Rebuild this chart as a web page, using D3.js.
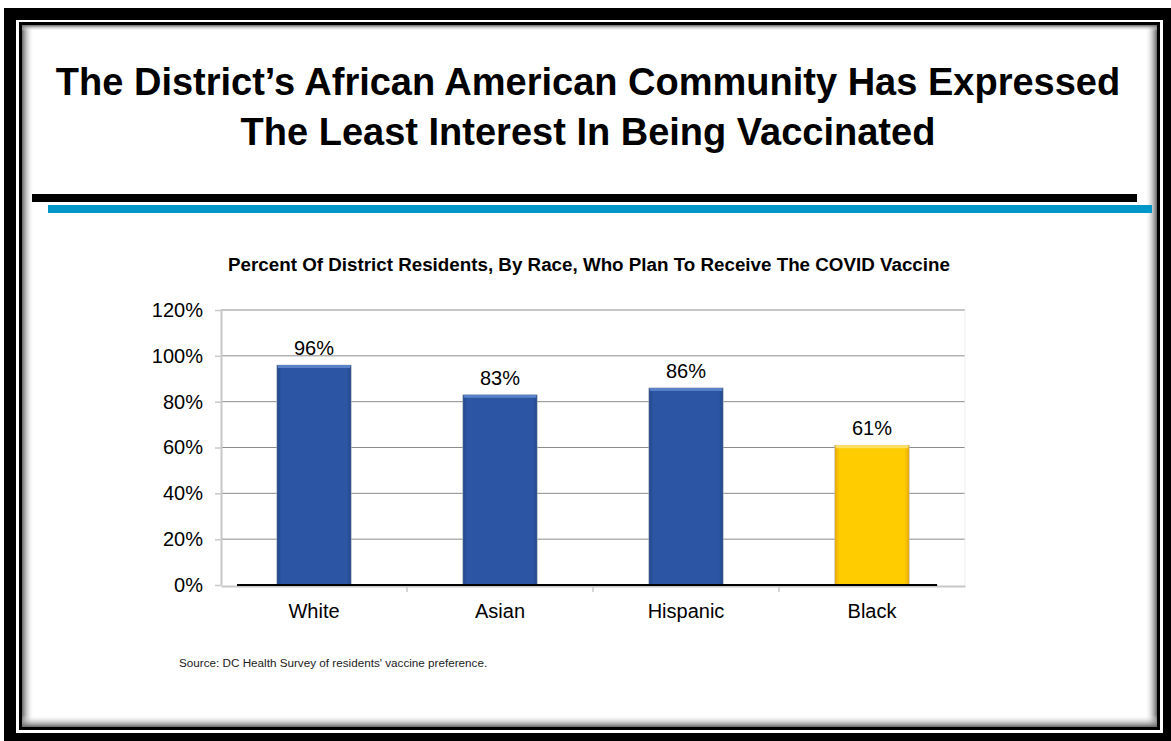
<!DOCTYPE html>
<html>
<head>
<meta charset="utf-8">
<script src="https://cdn.jsdelivr.net/npm/d3@7"></script>
<style>
  body { margin: 0; background: #fff; }
  svg { display: block; font-family: "Liberation Sans", Arial, sans-serif; }
</style>
</head>
<body>
<svg id="chart"></svg>
<script>
// Data
const categories = ["White", "Asian", "Hispanic", "Black"];
const values = [96, 83, 86, 61];
const yTicks = [0, 20, 40, 60, 80, 100, 120];
const barColors = ["blue", "blue", "blue", "yellow"];

const titleLines = [
    "The District\u2019s African American Community Has Expressed",
    "The Least Interest In Being Vaccinated"
];
const subtitle = "Percent Of District Residents, By Race, Who Plan To Receive The COVID Vaccine";
const source = "Source: DC Health Survey of residents' vaccine preference.";

// Dimensions
const W = 1171, H = 741;
const margin = { top: 310, right: 206, bottom: 156, left: 221 };
const plotW = W - margin.left - margin.right;
const plotH = H - margin.top - margin.bottom;

const svg = d3.select("#chart").attr("width", W).attr("height", H);
const defs = svg.append("defs");

// Frame shadow gradients (inner edge darkening)
function edgeGrad(id, x1, y1, x2, y2) {
    const g = defs.append("linearGradient").attr("id", id)
        .attr("x1", x1).attr("y1", y1).attr("x2", x2).attr("y2", y2);
    g.append("stop").attr("offset", "0%").attr("stop-color", "#666").attr("stop-opacity", 1);
    g.append("stop").attr("offset", "100%").attr("stop-color", "#fff").attr("stop-opacity", 0);
}
edgeGrad("shL", 0, 0, 1, 0);
edgeGrad("shR", 1, 0, 0, 0);
edgeGrad("shT", 0, 0, 0, 1);
edgeGrad("shB", 0, 1, 0, 0);

// Bar gradients
function barGrad(id, edge, mid) {
    const g = defs.append("linearGradient").attr("id", id).attr("x1", 0).attr("x2", 1);
    g.append("stop").attr("offset", "0%").attr("stop-color", edge);
    g.append("stop").attr("offset", "6%").attr("stop-color", mid);
    g.append("stop").attr("offset", "94%").attr("stop-color", mid);
    g.append("stop").attr("offset", "100%").attr("stop-color", edge);
}
barGrad("blue", "#22478a", "#2c55a3");
barGrad("yellow", "#e6a800", "#ffcc00");
const bevel = { blue: "#5a82c8", yellow: "#ffe066" };

// Frame
svg.append("rect").attr("x", 4).attr("y", 8).attr("width", 1167).attr("height", 733).attr("fill", "#000");
svg.append("rect").attr("x", 16).attr("y", 20).attr("width", 1147).attr("height", 713).attr("fill", "#fff");
svg.append("rect").attr("x", 19).attr("y", 22).attr("width", 1141).attr("height", 708).attr("fill", "#000");
svg.append("rect").attr("x", 22).attr("y", 25).attr("width", 1135).attr("height", 702).attr("fill", "#fff");
const sh = 12;
svg.append("rect").attr("x", 22).attr("y", 25).attr("width", sh).attr("height", 702).attr("fill", "url(#shL)");
svg.append("rect").attr("x", 1157 - sh).attr("y", 25).attr("width", sh).attr("height", 702).attr("fill", "url(#shR)");
svg.append("rect").attr("x", 22).attr("y", 25).attr("width", 1135).attr("height", 6).attr("fill", "url(#shT)");
svg.append("rect").attr("x", 22).attr("y", 727 - sh).attr("width", 1135).attr("height", sh).attr("fill", "url(#shB)");

// Title
svg.append("g").selectAll("text")
    .data(titleLines)
    .join("text")
    .attr("x", 588)
    .attr("y", (d, i) => 95 + i * 50)
    .attr("text-anchor", "middle")
    .attr("font-size", "38px")
    .attr("font-weight", "bold")
    .attr("fill", "#000")
    .text(d => d);

// Divider lines
svg.append("rect").attr("x", 32).attr("y", 194).attr("width", 1105).attr("height", 8).attr("fill", "#000");
svg.append("rect").attr("x", 48).attr("y", 205).attr("width", 1104).attr("height", 8).attr("fill", "#0098c8");

// Chart subtitle
svg.append("text")
    .attr("x", 589)
    .attr("y", 271)
    .attr("text-anchor", "middle")
    .attr("font-size", "18.8px")
    .attr("font-weight", "bold")
    .text(subtitle);

// Scales
const x = d3.scaleBand().domain(categories).range([0, plotW]);
const y = d3.scaleLinear().domain([0, 120]).range([plotH, 0]);

const g = svg.append("g").attr("transform", `translate(${margin.left},${margin.top})`);

// Gridlines
g.append("g").selectAll("line")
    .data(yTicks.filter(d => d > 0))
    .join("line")
    .attr("x1", 0).attr("x2", plotW)
    .attr("y1", d => y(d)).attr("y2", d => y(d))
    .attr("stroke", "#8c8c8c").attr("stroke-width", 1);

// Light right border
g.append("line").attr("x1", plotW).attr("x2", plotW).attr("y1", 0).attr("y2", plotH)
    .attr("stroke", "#eee").attr("stroke-width", 1);

// Y axis
const yAxis = g.append("g")
    .call(d3.axisLeft(y).tickValues(yTicks).tickFormat(d => d + "%").tickSize(6).tickSizeOuter(0));
yAxis.select(".domain").attr("stroke", "#c8c8c8").attr("stroke-width", 2);
yAxis.selectAll(".tick line").attr("stroke", "#c8c8c8").attr("stroke-width", 1.5);
yAxis.selectAll(".tick text").attr("font-size", "20px").attr("fill", "#000").attr("x", -18)
    .attr("font-family", "Liberation Sans, Arial, sans-serif");

// X axis
const xAxis = g.append("g").attr("transform", `translate(0,${plotH + 1})`)
    .call(d3.axisBottom(x).tickSize(0).tickSizeOuter(0));
xAxis.select(".domain").attr("stroke", "#c8c8c8").attr("stroke-width", 2);
xAxis.selectAll(".tick text").attr("font-size", "20px").attr("fill", "#000").attr("y", 18).attr("dy", "0.71em")
    .attr("font-family", "Liberation Sans, Arial, sans-serif");
xAxis.append("g").selectAll("line")
    .data(categories.slice(1))
    .join("line")
    .attr("x1", d => x(d)).attr("x2", d => x(d))
    .attr("y1", 0).attr("y2", 6)
    .attr("stroke", "#c8c8c8").attr("stroke-width", 1.5);

// Bars
const barW = x.bandwidth() * 0.4;
const bars = g.append("g").selectAll("g")
    .data(categories.map((c, i) => ({ c, v: values[i], col: barColors[i] })))
    .join("g");

bars.append("rect")
    .attr("x", d => x(d.c) + (x.bandwidth() - barW) / 2)
    .attr("y", d => y(d.v))
    .attr("width", barW)
    .attr("height", d => plotH - y(d.v))
    .attr("fill", d => `url(#${d.col})`)
    .attr("stroke", "#bbb")
    .attr("stroke-width", 0.6);

bars.append("rect")
    .attr("x", d => x(d.c) + (x.bandwidth() - barW) / 2 + 1)
    .attr("y", d => y(d.v))
    .attr("width", barW - 2)
    .attr("height", 3)
    .attr("fill", d => bevel[d.col]);

bars.append("text")
    .attr("x", d => x(d.c) + x.bandwidth() / 2)
    .attr("y", d => y(d.v) - 10)
    .attr("text-anchor", "middle")
    .attr("font-size", "20px")
    .text(d => d.v + "%");

// Black floor line
g.append("line")
    .attr("x1", 16).attr("x2", x("Black") + x.bandwidth() * 0.85)
    .attr("y1", plotH).attr("y2", plotH)
    .attr("stroke", "#000").attr("stroke-width", 2);

// Source note
svg.append("text")
    .attr("x", 179)
    .attr("y", 667)
    .attr("font-size", "11.7px")
    .attr("fill", "#222")
    .text(source);
</script>
</body>
</html>
